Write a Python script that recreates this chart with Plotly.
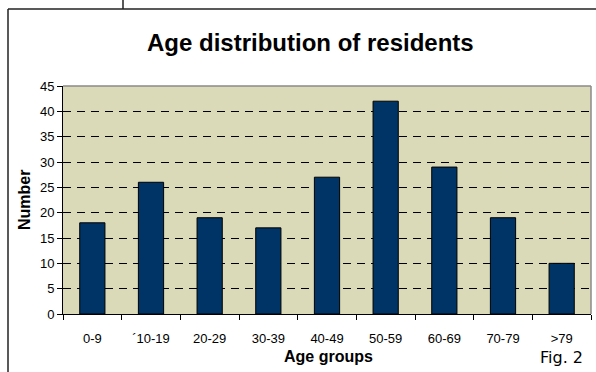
import plotly.graph_objects as go

categories = ["0-9", "\u00b410-19", "20-29", "30-39", "40-49", "50-59", "60-69", "70-79", ">79"]
values = [18, 26, 19, 17, 27, 42, 29, 19, 10]
y_ticks = [0, 5, 10, 15, 20, 25, 30, 35, 40, 45]

W, H = 596, 372
L, R, T, B = 63, 5, 86, 58
PW, PH = W - L - R, H - T - B


def px(x):
    return (x - L) / PW


def py(y):
    return (H - B - y) / PH


fig = go.Figure(go.Bar(
    x=categories, y=values,
    marker=dict(color="#003366", line=dict(color="#000000", width=1)),
    width=0.43,
))

font = "Liberation Sans, Arial, sans-serif"
fig.update_layout(
    width=W, height=H,
    margin=dict(l=L, r=R, t=T, b=B, pad=0),
    paper_bgcolor="white",
    plot_bgcolor="#DADAB8",
    showlegend=False,
    font=dict(family=font, size=13, color="#000"),
    xaxis=dict(
        type="category", showline=True, linecolor="#000", linewidth=1,
        ticks="outside", tickson="boundaries", ticklen=5, tickcolor="#000",
        tickfont=dict(size=13, family=font), ticklabelstandoff=12,
        showgrid=False, fixedrange=True,
    ),
    yaxis=dict(
        range=[0, 45], tickvals=y_ticks, showline=True, linecolor="#000", linewidth=1,
        ticks="outside", ticklen=5, tickcolor="#000",
        tickfont=dict(size=13, family=font),
        showgrid=True, gridcolor="#000", gridwidth=1, griddash="8px,6px",
        zeroline=False, fixedrange=True,
    ),
    shapes=[
        # plot-area top and right border (grey)
        dict(type="line", xref="paper", yref="paper", x0=0, x1=1, y0=1, y1=1,
             line=dict(color="#8a8a8a", width=1.5), layer="above"),
        dict(type="line", xref="paper", yref="paper", x0=1, x1=1, y0=0, y1=1,
             line=dict(color="#8a8a8a", width=1.5), layer="above"),
        # outer frame
        dict(type="line", xref="paper", yref="paper", x0=px(8), x1=px(600), y0=py(9), y1=py(9),
             line=dict(color="#222", width=1.5)),
        dict(type="line", xref="paper", yref="paper", x0=px(8), x1=px(8), y0=py(9), y1=py(380),
             line=dict(color="#222", width=1.5)),
        dict(type="line", xref="paper", yref="paper", x0=px(123), x1=px(123), y0=py(-2), y1=py(9),
             line=dict(color="#222", width=1.5)),
    ],
    annotations=[
        dict(text="<b>Age distribution of residents</b>", xref="paper", yref="paper",
             x=px(310), y=py(43), xanchor="center", yanchor="middle", showarrow=False,
             font=dict(size=24, family=font, color="#000")),
        dict(text="<b>Number</b>", xref="paper", yref="paper",
             x=px(24), y=py(200), xanchor="center", yanchor="middle", showarrow=False,
             textangle=-90, font=dict(size=16, family=font, color="#000")),
        dict(text="<b>Age groups</b>", xref="paper", yref="paper",
             x=px(328), y=py(356), xanchor="center", yanchor="middle", showarrow=False,
             font=dict(size=16, family=font, color="#000")),
        dict(text="Fig. 2", xref="paper", yref="paper",
             x=px(561), y=py(357), xanchor="center", yanchor="middle", showarrow=False,
             font=dict(size=16, family="DejaVu Sans, sans-serif", color="#000")),
    ],
)

fig.write_html("out.html")
